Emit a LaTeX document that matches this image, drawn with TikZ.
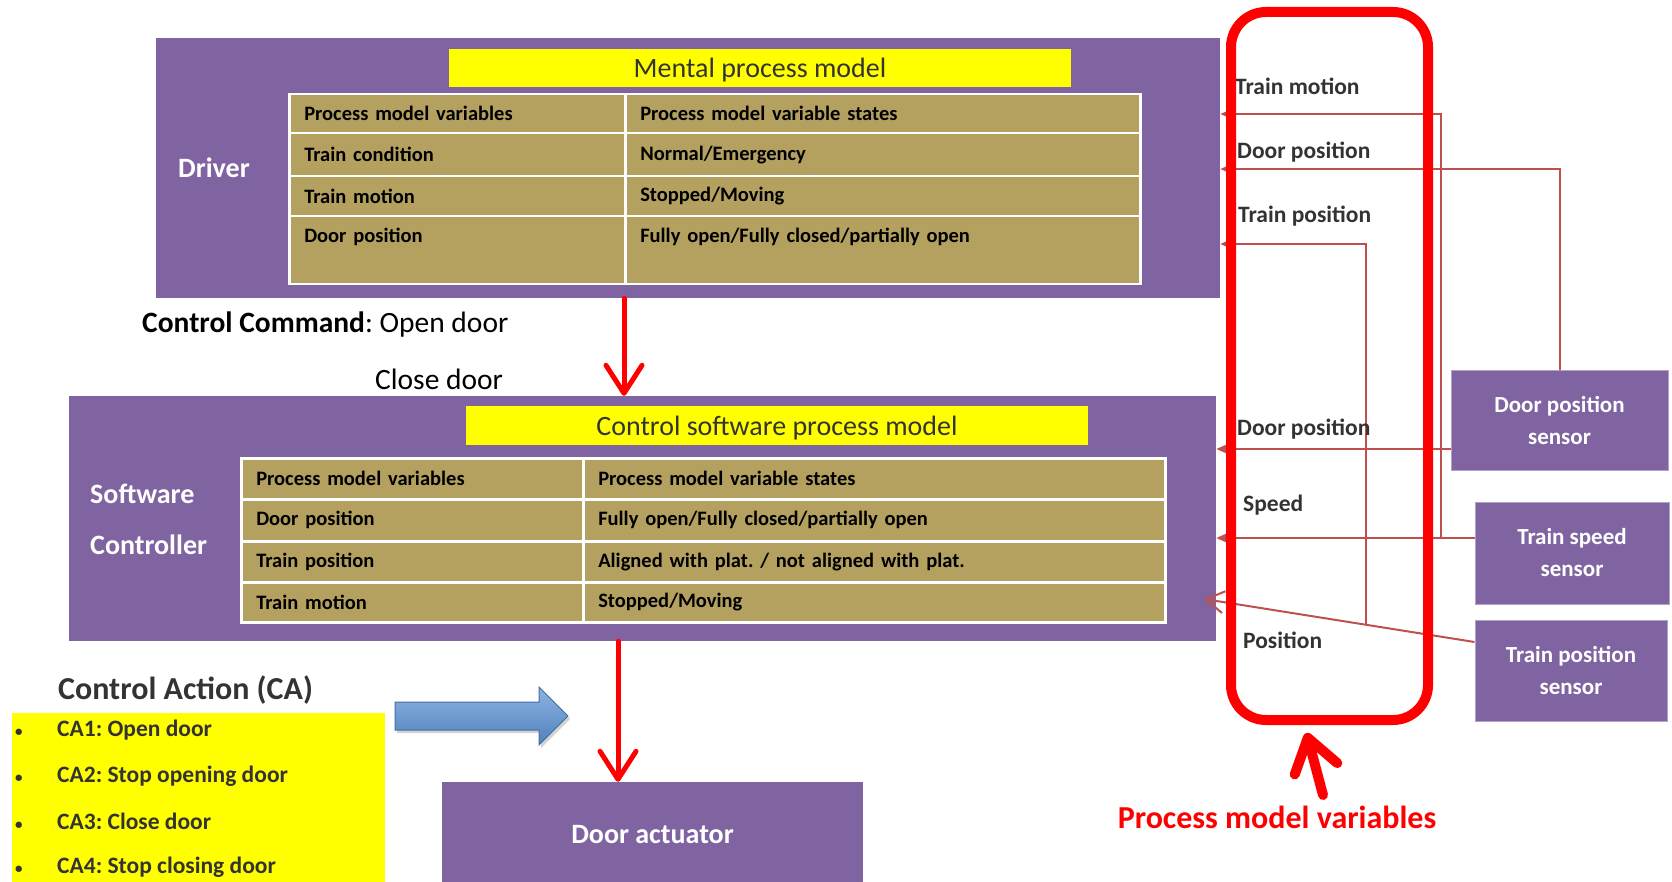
\documentclass[tikz,border=0pt]{standalone}
\usepackage{fontspec}
\setmainfont{Carlito}
\usetikzlibrary{arrows.meta,shadows}
\frenchspacing

\definecolor{boxpurple}{HTML}{8064A2}
\definecolor{cellgold}{HTML}{B4A160}
\definecolor{sigred}{HTML}{C0504D}
\definecolor{darktext}{HTML}{333333}
\definecolor{hiyellow}{HTML}{FFFF00}
\definecolor{arrowtop}{HTML}{8EB4E3}
\definecolor{arrowbot}{HTML}{4F81BD}

\tikzset{
  box/.style={fill=boxpurple, text=white, inner sep=0pt,
    font=\fontsize{28}{32}\selectfont\bfseries},
  sensor/.style={box, draw=boxpurple!60, line width=1pt, align=center,
    font=\fontsize{23}{32}\selectfont\bfseries},
  title/.style={fill=hiyellow, text=darktext, minimum width=622pt, minimum height=38pt,
    text height=26pt, text depth=6pt, inner ysep=0pt,
    font=\fontsize{28}{32}\selectfont},
  cell/.style={fill=cellgold, draw=white, line width=2.5pt, anchor=north west,
    inner xsep=15pt, inner ysep=0pt, align=left,
    font=\fontsize{20.5}{24}\selectfont\bfseries},
  dA/.style={cell, minimum width=336pt, text width=306pt},
  dB/.style={cell, minimum width=515pt, text width=485pt},
  sA/.style={cell, minimum width=342pt, text width=312pt},
  sB/.style={cell, minimum width=582pt, text width=552pt},
  varlbl/.style={anchor=west, inner sep=0pt, text=darktext,
    font=\fontsize{23.5}{28}\selectfont\bfseries},
  calbl/.style={anchor=west, inner sep=0pt, text=darktext,
    font=\fontsize{23.5}{28}\selectfont\bfseries},
  sig/.style={draw=sigred, line width=2pt, -{Triangle[length=11pt,width=9pt]}},
  cmd/.style={draw=red, line width=5pt, line cap=round,
    -{Straight Barb[length=28pt,width=36pt,round]}},
}
\newcommand{\cabullet}{\makebox[43pt][l]{\hspace{1pt}{\fontsize{15}{15}\selectfont\textbullet}}}

\begin{document}
\begin{tikzpicture}[x=1pt,y=-1pt]
  \useasboundingbox (0,0) rectangle (1672,882);

  % controller boxes
  \node[box, minimum width=1064pt, minimum height=260pt] (driver) at (688,168) {};
  \node[box, minimum width=1147pt, minimum height=245pt] (sw) at (642.5,518.5) {};
  \node[box, minimum width=421pt, minimum height=106pt] (act) at (652.5,835) {Door actuator};
  \node[box, anchor=center] (drvlbl) at (214,168) {Driver};
  \node[box, anchor=west, align=left, font=\fontsize{28}{51}\selectfont\bfseries] (swlbl) at (90,519) {Software\\Controller};

  % sensors
  \node[sensor, minimum width=217pt, minimum height=100pt] (dps) at (1559.5,420) {Door position\\sensor};
  \node[sensor, minimum width=194pt, minimum height=102pt] (tss) at (1572,553) {Train speed\\sensor};
  \node[sensor, minimum width=192pt, minimum height=101pt] (tps) at (1571,670.5) {Train position\\sensor};

  % mental process model
  \node[title] (mtitle) at (760,68) {Mental process model};
  \node[dA, minimum height=39pt] (dv0) at (288,93) {Process model variables};
  \node[dB, minimum height=39pt] (ds0) at (624,93) {Process model variable states};
  \node[dA, minimum height=43pt] (dv1) at (288,132) {Train condition};
  \node[dB, minimum height=43pt] (ds1) at (624,132) {Normal/Emergency};
  \node[dA, minimum height=40pt] (dv2) at (288,175) {Train motion};
  \node[dB, minimum height=40pt] (ds2) at (624,175) {Stopped/Moving};
  \node[dA, minimum height=68pt, text depth=30pt] (dv3) at (288,215) {Door position};
  \node[dB, minimum height=68pt, text depth=30pt] (ds3) at (624,215) {Fully open/Fully closed/partially open};

  % control software process model
  \node[title, minimum height=39pt] (ctitle) at (777,425.5) {Control software process model};
  \node[sA, minimum height=41pt] (sv0) at (240,457) {Process model variables};
  \node[sB, minimum height=41pt] (ss0) at (582,457) {Process model variable states};
  \node[sA, minimum height=42pt] (sv1) at (240,498) {Door position};
  \node[sB, minimum height=42pt] (ss1) at (582,498) {Fully open/Fully closed/partially open};
  \node[sA, minimum height=41pt] (sv2) at (240,540) {Train position};
  \node[sB, minimum height=41pt] (ss2) at (582,540) {Aligned with plat. / not aligned with plat.};
  \node[sA, minimum height=40pt] (sv3) at (240,581) {Train motion};
  \node[sB, minimum height=40pt] (ss3) at (582,581) {Stopped/Moving};

  % control commands
  \node[anchor=west, inner sep=0pt, font=\fontsize{29.5}{34}\selectfont] (cc1) at (142,325) {\textbf{Control Command}: Open door};
  \node[anchor=west, inner sep=0pt, font=\fontsize{29.5}{34}\selectfont] (cc2) at (375,379) {Close door};
  \draw[cmd] ([xshift=-64pt]driver.south) -- ([xshift=-18.5pt]sw.north);
  \draw[cmd] ([xshift=-24.5pt]sw.south) -- ([xshift=-34.5pt]act.north);

  % control actions
  \node[anchor=west, inner sep=0pt, text=darktext, font=\fontsize{32}{36}\selectfont\bfseries] (catitle) at (58,690) {Control Action (CA)};
  \node[fill=hiyellow, anchor=north west, minimum width=373pt, minimum height=180pt] (cabox) at (12,713) {};
  \node[calbl] (ca1) at (14,730) {\cabullet CA1: Open door};
  \node[calbl] (ca2) at (14,776) {\cabullet CA2: Stop opening door};
  \node[calbl] (ca3) at (14,821) {\cabullet CA3: Close door};
  \node[calbl] (ca4) at (14,867) {\cabullet CA4: Stop closing door};
  \path[top color=arrowtop, bottom color=arrowbot, draw=arrowbot!85!black, line width=1pt,
    drop shadow={shadow xshift=2pt, shadow yshift=-3pt, opacity=0.35}]
    (395,702) -- (539,702) -- (539,687) -- (568,716) -- (539,745) -- (539,730) -- (395,730) -- cycle;

  % feedback
  \coordinate (tmk) at (1441,114);
  \coordinate (dpk) at (1559.5,169);
  \coordinate (swin) at (1204,599);
  \coordinate (tpk) at (1366,625);
  \draw[sig] ([yshift=15pt]tss.west) -| (tmk) -- (driver.east |- tmk);
  \draw[sig] (dps.north) -- (dpk) -- (driver.east |- dpk);
  \draw[sig] (tpk) |- ([yshift=-76pt]driver.east);
  \draw[sig] ([yshift=-29pt]dps.west) -- ([yshift=69.5pt]sw.east);
  \draw[sig] ([yshift=15pt]tss.west) -- ([yshift=-19.5pt]sw.east);
  \draw[sig, -{Straight Barb[length=18pt,width=22pt]}] ([yshift=28.5pt]tps.west) -- (swin);

  \node[varlbl] (vtm) at (1235,86) {Train motion};
  \node[varlbl] (vdp) at (1237,152) {Door position};
  \node[varlbl] (vtp) at (1238,216) {Train position};
  \node[varlbl] (vdp2) at (1237,429) {Door position};
  \node[varlbl] (vsp) at (1243,505) {Speed};
  \node[varlbl] (vpo) at (1243,640) {Position};

  % process model variables
  \node[draw=red, line width=10pt, rounded corners=35pt, minimum width=197pt, minimum height=708pt] (pmvbox) at (1329.5,366) {};
  \node[text=red, inner sep=0pt, font=\fontsize{32}{36}\selectfont\bfseries] (pmvlbl) at (1277,817) {Process model variables};
  \coordinate (pmvtail) at (1323,795);
  \draw[draw=red, line width=10pt, line cap=round, -{Straight Barb[length=32pt,width=44pt,round]}] (pmvtail) -- ([xshift=-23pt,yshift=-8pt]pmvbox.south);
\end{tikzpicture}
\end{document}
